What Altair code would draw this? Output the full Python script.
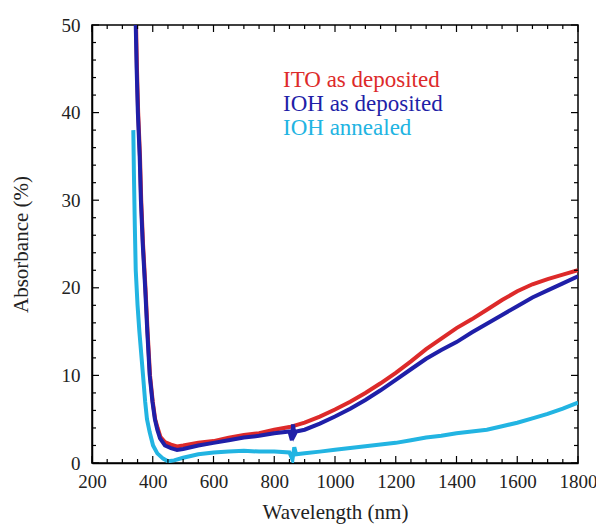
import altair as alt
import pandas as pd

# ---- data ----
ito_wl = [345, 348, 352, 358, 362, 368, 376, 383, 391, 400, 408, 416, 425, 440, 460, 480, 500,
          550, 600, 650, 700, 750, 800, 850, 900, 950, 1000, 1050, 1100, 1150, 1200, 1250,
          1300, 1350, 1400, 1450, 1500, 1550, 1600, 1650, 1700, 1750, 1800]
ito_abs = [50, 45, 40, 35, 30, 25, 20, 15, 10, 7, 5, 4, 3, 2.4, 2.1, 1.9, 2.0,
           2.3, 2.5, 2.9, 3.2, 3.4, 3.8, 4.1, 4.6, 5.3, 6.1, 7.0, 8.0, 9.1, 10.3, 11.6,
           13.0, 14.2, 15.4, 16.4, 17.5, 18.6, 19.6, 20.4, 21.0, 21.5, 22.0]

ioh_wl = [344, 347, 351, 357, 361, 367, 375, 382, 390, 399, 407, 415, 424, 440, 460, 480, 500,
          550, 600, 650, 700, 750, 800, 850, 858, 862, 866, 872, 900, 950, 1000, 1050, 1100,
          1150, 1200, 1250, 1300, 1350, 1400, 1450, 1500, 1550, 1600, 1650, 1700, 1750, 1800]
ioh_abs = [50, 45, 40, 35, 30, 25, 20, 15, 10, 7, 5, 3.8, 2.8, 2.0, 1.7, 1.5, 1.6,
           2.0, 2.3, 2.6, 2.9, 3.1, 3.4, 3.6, 2.6, 4.4, 3.2, 3.6, 3.8, 4.5, 5.3, 6.2, 7.2,
           8.3, 9.5, 10.7, 11.9, 12.9, 13.8, 14.9, 15.9, 16.9, 17.9, 18.9, 19.7, 20.5, 21.3]

ann_wl = [336, 338, 341, 344, 350, 356, 362, 368, 375, 381, 390, 401, 415, 434, 450, 470, 500,
          550, 600, 650, 700, 750, 800, 850, 860, 866, 872, 900, 950, 1000, 1050, 1100, 1150,
          1200, 1250, 1300, 1350, 1400, 1450, 1500, 1550, 1600, 1650, 1700, 1750, 1800]
ann_abs = [38, 33, 27, 22, 18, 15, 12.5, 10, 7, 5, 3.5, 2, 1.1, 0.5, 0.2, 0.3, 0.6,
           1.0, 1.2, 1.3, 1.4, 1.3, 1.3, 1.2, 0.4, 1.8, 1.0, 1.1, 1.3, 1.5, 1.7, 1.9, 2.1,
           2.3, 2.6, 2.9, 3.1, 3.4, 3.6, 3.8, 4.2, 4.6, 5.1, 5.6, 6.2, 6.9]

series_names = ["ITO as deposited", "IOH as deposited", "IOH annealed"]
series_colors = ["#dd2a2a", "#1f1fa8", "#22b4e2"]

x_major = [200, 400, 600, 800, 1000, 1200, 1400, 1600, 1800]
x_minor = [v for v in range(200, 1801, 50) if v % 200 != 0]
y_major = [0, 10, 20, 30, 40, 50]
y_minor = [v for v in range(0, 51, 2) if v % 10 != 0]

W, H = 486, 438
FONT = "Liberation Serif"

xs = alt.Scale(domain=[200, 1800], nice=False, zero=False)
ys = alt.Scale(domain=[0, 50], nice=False, zero=True)

x_axis = alt.Axis(values=x_major, title="Wavelength (nm)", tickSize=0,
                  format="d", labelOverlap=False, labelFlush=False,
                  labelPadding=9, titlePadding=10, grid=False,
                  domainColor="black", domainWidth=1.5,
                  labelFont=FONT, titleFont=FONT, labelFontSize=19, titleFontSize=21,
                  labelColor="#222", titleColor="#222", titleFontWeight="normal")
y_axis = alt.Axis(values=y_major, title="Absorbance (%)", tickSize=0,
                  format="d", labelOverlap=False, labelFlush=False,
                  labelPadding=12, titlePadding=30, grid=False,
                  domainColor="black", domainWidth=1.5,
                  labelFont=FONT, titleFont=FONT, labelFontSize=19, titleFontSize=21,
                  labelColor="#222", titleColor="#222", titleFontWeight="normal")


def series_layer(wl, ab, color):
    df = pd.DataFrame({"wl": wl, "ab": ab})
    return alt.Chart(df).mark_line(color=color, strokeWidth=4, clip=True).encode(
        x=alt.X("wl:Q", scale=xs, axis=x_axis),
        y=alt.Y("ab:Q", scale=ys, axis=y_axis),
        order=alt.Order("wl:Q"),
    )

layers = [
    series_layer(ito_wl, ito_abs, series_colors[0]),
    series_layer(ioh_wl, ioh_abs, series_colors[1]),
    series_layer(ann_wl, ann_abs, series_colors[2]),
]

# inside ticks on all four sides
def xticks(vals, length):
    df = pd.DataFrame({"v": vals})
    base = alt.Chart(df)
    enc_x = alt.X("v:Q", scale=xs, axis=x_axis)
    bottom = base.mark_rule(color="black", strokeWidth=1.2).encode(
        x=enc_x, y=alt.value(H), y2=alt.value(H - length))
    top = base.mark_rule(color="black", strokeWidth=1.2).encode(
        x=enc_x, y=alt.value(0), y2=alt.value(length))
    return [bottom, top]

def yticks(vals, length):
    df = pd.DataFrame({"v": vals})
    base = alt.Chart(df)
    enc_y = alt.Y("v:Q", scale=ys, axis=y_axis)
    left = base.mark_rule(color="black", strokeWidth=1.2).encode(
        y=enc_y, x=alt.value(0), x2=alt.value(length))
    right = base.mark_rule(color="black", strokeWidth=1.2).encode(
        y=enc_y, x=alt.value(W), x2=alt.value(W - length))
    return [left, right]

tick_layers = xticks(x_major, 7) + xticks(x_minor, 4) + yticks(y_major, 7) + yticks(y_minor, 4)

legend_layers = []
for i, (name, col) in enumerate(zip(series_names, series_colors)):
    legend_layers.append(
        alt.Chart(pd.DataFrame({"label": [name]})).mark_text(
            font=FONT, fontSize=23, align="left", baseline="alphabetic", color=col
        ).encode(
            x=alt.value(191),
            y=alt.value(62 + 24 * i),
            text="label:N",
        )
    )

chart = alt.layer(*layers, *tick_layers, *legend_layers).properties(
    width=W, height=H,
    autosize=alt.AutoSizeParams(type="none"),
    padding={"left": 84, "top": 17, "right": 18, "bottom": 66},
).configure(
    font=FONT
).configure_view(
    stroke="black", strokeWidth=1.5
)

chart.save("out.html", embed_options={"renderer": "svg", "actions": False})
